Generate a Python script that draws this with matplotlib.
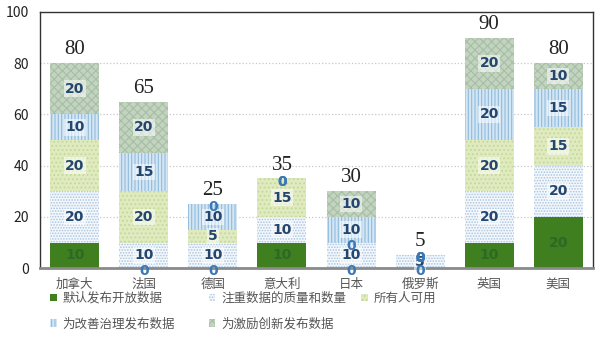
import numpy as np
import matplotlib.pyplot as plt

plt.rcParams['font.family'] = ['Noto Sans CJK SC', 'DejaVu Sans']
plt.rcParams['hatch.linewidth'] = 0.8

countries = ['加拿大', '法国', '德国', '意大利', '日本', '俄罗斯', '英国', '美国']
default_open = [10, 0, 0, 10, 0, 0, 10, 20]
quality = [20, 10, 10, 10, 10, 5, 20, 20]
for_all = [20, 20, 5, 15, 0, 0, 20, 15]
governance = [10, 15, 10, 0, 10, 0, 20, 15]
innovation = [20, 20, 0, 0, 10, 0, 20, 10]

series_names = ['默认发布开放数据', '注重数据的质量和数量', '所有人可用',
                '为改善治理发布数据', '为激励创新发布数据']
series = [default_open, quality, for_all, governance, innovation]

# face, hatch colour, hatch pattern
styles = [
    ('#3f7f1f', '#3f7f1f', None),
    ('#f4f8fc', '#a9c4df', '......'),
    ('#dfeabf', '#c4d89a', '....'),
    ('#d4e6f4', '#8fbcdc', '|||||'),
    ('#c2d4c0', '#a6bea4', 'xxxx'),
]

fig = plt.figure(figsize=(6, 3.42), dpi=100)
ax = fig.add_axes([0.067, 0.216, 0.921, 0.749])

x = np.arange(len(countries))
width = 0.71
bottom = np.zeros(len(countries))
handles = []
for k, (vals, (face, hcol, hatch), name) in enumerate(zip(series, styles, series_names)):
    vals = np.array(vals, dtype=float)
    bars = ax.bar(x, vals, width, bottom=bottom, color=face, edgecolor=hcol,
                  hatch=hatch, linewidth=0, label=name, zorder=2)
    handles.append(bars)
    for xi, b, v in zip(x, bottom, vals):
        if v == 0:
            ax.text(xi, b + v / 2 - 1.2, '0', ha='center', va='center',
                    fontsize=10, fontweight='bold', color='#3b78b5', zorder=5,
                    family='DejaVu Sans')
        elif k == 0:
            ax.text(xi, b + v / 2, f'{int(v)}', ha='center', va='center',
                    fontsize=10, fontweight='bold', color='#2b6a25', zorder=4,
                    family='DejaVu Sans')
        else:
            ax.text(xi, b + v / 2, f'{int(v)}', ha='center', va='center',
                    fontsize=10, fontweight='bold', color='#24466e', zorder=4,
                    family='DejaVu Sans',
                    bbox=dict(boxstyle='square,pad=0.1', fc='white',
                              ec='none', alpha=0.55))
    bottom += vals

# totals above each bar
for xi, tot in zip(x, bottom):
    ax.text(xi, tot + 1.5, f'{int(tot)}', ha='center', va='bottom',
            fontsize=15, family='Liberation Serif', color='#222222')

ax.set_xlim(-0.5, len(countries) - 0.5)
ax.set_ylim(0, 100)
ax.set_yticks([0, 20, 40, 60, 80, 100])
ax.yaxis.grid(True, linestyle=':', color='#c8c8c8', linewidth=0.9, zorder=0)
ax.set_axisbelow(True)
ax.tick_params(axis='y', length=0, labelsize=10, labelcolor='#222222', pad=8)
ax.tick_params(axis='x', length=0, labelsize=9, labelcolor='#555555', pad=7)
ax.set_xticks(x)
ax.set_xticklabels(countries)

for side in ['left', 'top', 'right']:
    ax.spines[side].set_color('#333333')
    ax.spines[side].set_linewidth(1.0)
ax.spines['bottom'].set_color('#8a8a8a')
ax.spines['bottom'].set_linewidth(2)

# legend laid out row by row: first two columns, then the third
leg_kw = dict(frameon=False, fontsize=9, handlelength=0.55, handleheight=0.55,
              handletextpad=0.45, labelspacing=1.0, borderpad=0,
              borderaxespad=0)
order = [0, 3, 1, 4]
leg1 = fig.legend([handles[i] for i in order], [series_names[i] for i in order],
                  loc='upper left', bbox_to_anchor=(0.083, 0.147), ncol=2,
                  columnspacing=2.7, **leg_kw)
leg2 = fig.legend([handles[2]], [series_names[2]],
                  loc='upper left', bbox_to_anchor=(0.602, 0.147), ncol=1,
                  **leg_kw)
for leg in (leg1, leg2):
    for t in leg.get_texts():
        t.set_color('#555555')

fig.savefig('out.png', dpi=100)
